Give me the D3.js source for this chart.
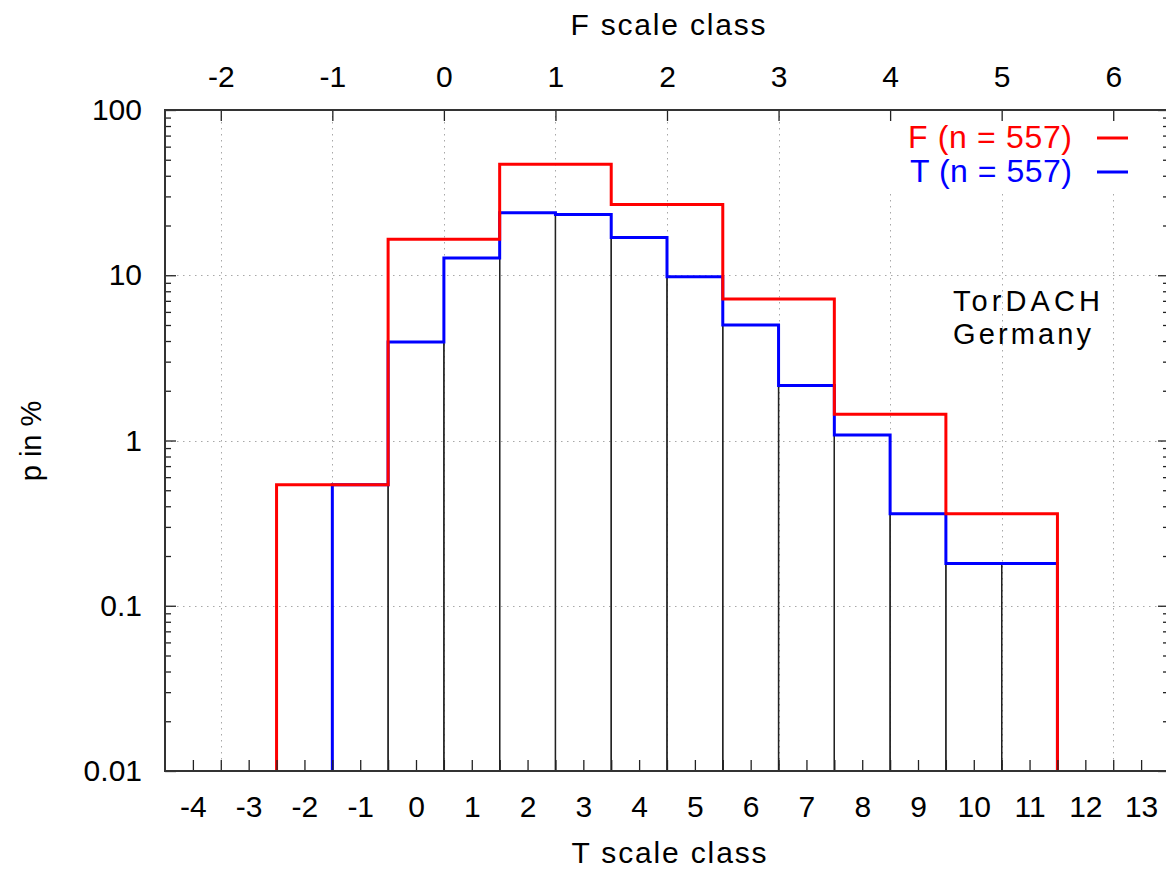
<!DOCTYPE html>
<html>
<head>
<meta charset="utf-8">
<script src="https://cdn.jsdelivr.net/npm/d3@7"></script>
<style>
  body { margin: 0; background: #fff; }
  svg { display: block; }
  text { font-family: "Liberation Sans", Arial, Helvetica, sans-serif; }
</style>
</head>
<body>
<svg width="1166" height="870"></svg>
<script>
// T scale classes and their share in percent (blue)
var tClasses = [-1, 0, 1, 2, 3, 4, 5, 6, 7, 8, 9, 10, 11];
var tPercent = [0.54, 3.95, 12.7, 23.9, 23.3, 16.9, 9.8, 5.0, 2.15, 1.08, 0.36, 0.18, 0.18];

// F scale classes and their share in percent (red)
var fClasses = [-1, 0, 1, 2, 3, 4, 5];
var fPercent = [0.54, 16.5, 47.0, 26.8, 7.18, 1.44, 0.36];

var tTickLabels = d3.range(-4, 14);
var fTickLabels = d3.range(-2, 7);
var yTickLabels = [0.01, 0.1, 1, 10, 100];

var legendLabels = ["F (n = 557)", "T (n = 557)"];
var noteLines = ["TorDACH", "Germany"];

//==========================================================================
// Layout and scales.

var plot = { left: 165, right: 1169, top: 110, bottom: 771 };

var svg = d3.select("svg");

var x = d3.scaleLinear()
    .domain([-4.5, 13.5])
    .range([plot.left, plot.right]);

var x2 = d3.scaleLinear()
    .domain([-2.5, 6.5])
    .range([plot.left, plot.right]);

var y = d3.scaleLog()
    .domain([0.01, 100])
    .range([plot.bottom, plot.top]);

var yMinor = [];
[0.01, 0.1, 1, 10].forEach(function(d) {
    for (var k = 2; k <= 9; k++) yMinor.push(d * k);
});

//==========================================================================
// Grid.

var grid = svg.append("g")
    .attr("stroke", "#a8a8a8")
    .attr("stroke-width", 1)
    .attr("stroke-dasharray", "1.5,4.5");

grid.selectAll(".vgrid")
    .data(fTickLabels)
    .enter()
    .append("line")
    .attr("x1", function(d) { return Math.round(x2(d)) + 0.5; })
    .attr("x2", function(d) { return Math.round(x2(d)) + 0.5; })
    .attr("y1", plot.top)
    .attr("y2", plot.bottom);

grid.selectAll(".hgrid")
    .data([0.1, 1, 10])
    .enter()
    .append("line")
    .attr("x1", plot.left)
    .attr("x2", plot.right)
    .attr("y1", function(d) { return Math.round(y(d)) + 0.5; })
    .attr("y2", function(d) { return Math.round(y(d)) + 0.5; });

// opaque key area
svg.append("rect")
    .attr("x", 880)
    .attr("y", plot.top + 2)
    .attr("width", 280)
    .attr("height", 78)
    .attr("fill", "#fff");

//==========================================================================
// Black boxes for the T classes.

svg.append("g")
    .selectAll("rect")
    .data(tClasses)
    .enter()
    .append("rect")
    .attr("x", function(d) { return x(d - 0.5); })
    .attr("width", function(d) { return x(d + 0.5) - x(d - 0.5); })
    .attr("y", function(d, i) { return y(tPercent[i]); })
    .attr("height", function(d, i) { return y(0.01) - y(tPercent[i]); })
    .attr("fill", "none")
    .attr("stroke", "#222")
    .attr("stroke-width", 1.3);

//==========================================================================
// Step outlines.

function stepPoints(classes, values, scale) {
    var pts = [[scale(classes[0] - 0.5), y(0.01)]];
    classes.forEach(function(c, i) {
        pts.push([scale(c - 0.5), y(values[i])]);
        pts.push([scale(c + 0.5), y(values[i])]);
    });
    pts.push([scale(classes[classes.length - 1] + 0.5), y(0.01)]);
    return pts;
}

var line = d3.line();

svg.append("path")
    .attr("d", line(stepPoints(tClasses, tPercent, x)))
    .attr("fill", "none")
    .attr("stroke", "#0000ff")
    .attr("stroke-width", 3);

svg.append("path")
    .attr("d", line(stepPoints(fClasses, fPercent, x2)))
    .attr("fill", "none")
    .attr("stroke", "#ff0000")
    .attr("stroke-width", 3);

//==========================================================================
// Axes.

var fontSize = 30;

var bottomAxis = d3.axisBottom(x)
    .tickValues(d3.range(-4, 13.51, 0.5))
    .tickFormat(function(d) { return Number.isInteger(d) ? String(d) : ""; })
    .tickSizeInner(-11)
    .tickSizeOuter(0)
    .tickPadding(25);

var topAxis = d3.axisTop(x2)
    .tickValues(fTickLabels)
    .tickFormat(function(d) { return String(d); })
    .tickSizeInner(-11)
    .tickSizeOuter(0)
    .tickPadding(23);

var leftAxis = d3.axisLeft(y)
    .tickValues(yTickLabels)
    .tickFormat(function(d) { return String(d); })
    .tickSizeInner(-11)
    .tickSizeOuter(0)
    .tickPadding(23);

var leftMinor = d3.axisLeft(y)
    .tickValues(yMinor)
    .tickFormat("")
    .tickSizeInner(-6)
    .tickSizeOuter(0);

var rightAxis = d3.axisRight(y)
    .tickValues(yTickLabels)
    .tickFormat("")
    .tickSizeInner(-11)
    .tickSizeOuter(0);

var rightMinor = d3.axisRight(y)
    .tickValues(yMinor)
    .tickFormat("")
    .tickSizeInner(-6)
    .tickSizeOuter(0);

function styleAxis(g) {
    g.select(".domain").remove();
    g.selectAll(".tick line").attr("stroke", "#222").attr("stroke-width", 1.3);
    g.selectAll(".tick text")
        .attr("fill", "#000")
        .style("font-size", fontSize + "px");
}

svg.append("g").attr("transform", "translate(0," + plot.bottom + ")").call(bottomAxis).call(styleAxis);
svg.append("g").attr("transform", "translate(0," + plot.top + ")").call(topAxis).call(styleAxis);
svg.append("g").attr("transform", "translate(" + plot.left + ",0)").call(leftAxis).call(styleAxis);
svg.append("g").attr("transform", "translate(" + plot.left + ",0)").call(leftMinor).call(styleAxis);
svg.append("g").attr("transform", "translate(" + plot.right + ",0)").call(rightAxis).call(styleAxis);
svg.append("g").attr("transform", "translate(" + plot.right + ",0)").call(rightMinor).call(styleAxis);

// border
svg.append("rect")
    .attr("x", plot.left)
    .attr("y", plot.top)
    .attr("width", plot.right - plot.left)
    .attr("height", plot.bottom - plot.top)
    .attr("fill", "none")
    .attr("stroke", "#333")
    .attr("stroke-width", 2);

//==========================================================================
// Titles, key and note.

svg.append("text")
    .attr("x", 668)
    .attr("y", 35)
    .attr("text-anchor", "middle")
    .attr("textLength", 195)
    .attr("lengthAdjust", "spacing")
    .style("font-size", fontSize + "px")
    .text("F scale class");

svg.append("text")
    .attr("x", 669)
    .attr("y", 863)
    .attr("text-anchor", "middle")
    .attr("textLength", 195)
    .attr("lengthAdjust", "spacing")
    .style("font-size", fontSize + "px")
    .text("T scale class");

svg.append("text")
    .attr("transform", "translate(41,441) rotate(-90)")
    .attr("text-anchor", "middle")
    .style("font-size", "29px")
    .text("p in %");

var keyColors = ["#ff0000", "#0000ff"];
var keyWidths = [164, 162];
var key = svg.append("g")
    .selectAll("g")
    .data(legendLabels)
    .enter()
    .append("g")
    .attr("transform", function(d, i) { return "translate(0," + (138 + i * 34) + ")"; });

key.append("text")
    .attr("x", 1072)
    .attr("y", 10)
    .attr("text-anchor", "end")
    .attr("textLength", function(d, i) { return keyWidths[i]; })
    .attr("lengthAdjust", "spacing")
    .attr("fill", function(d, i) { return keyColors[i]; })
    .style("font-size", "32px")
    .text(function(d) { return d; });

key.append("line")
    .attr("x1", 1097)
    .attr("x2", 1128)
    .attr("stroke", function(d, i) { return keyColors[i]; })
    .attr("stroke-width", 3);

var noteWidths = [147, 138];
svg.append("g")
    .selectAll("text")
    .data(noteLines)
    .enter()
    .append("text")
    .attr("x", 953)
    .attr("y", function(d, i) { return 311 + i * 33; })
    .attr("textLength", function(d, i) { return noteWidths[i]; })
    .attr("lengthAdjust", "spacing")
    .style("font-size", "29px")
    .text(function(d) { return d; });
</script>
</body>
</html>
